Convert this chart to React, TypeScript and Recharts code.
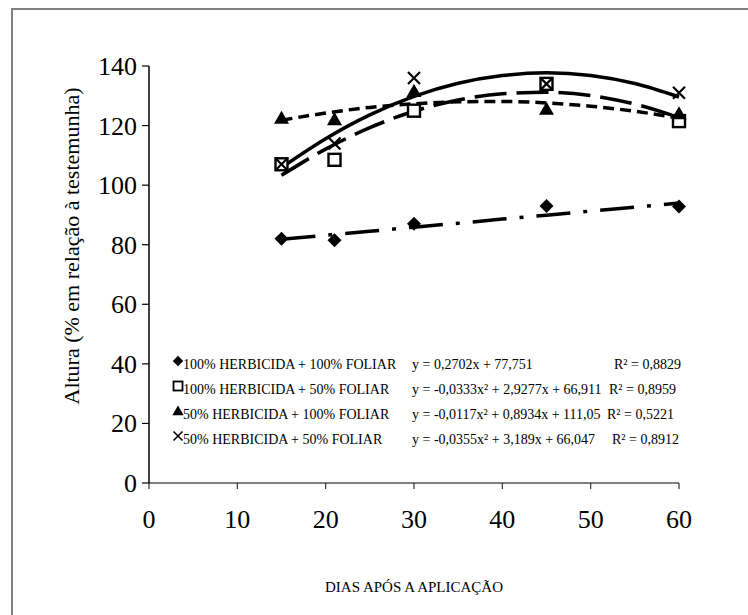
import React from 'react';
import { ComposedChart, Line, Scatter, XAxis, YAxis } from 'recharts';

// Measured points
const days = [15, 21, 30, 45, 60];
const h100f100 = [82, 81.5, 87, 93, 92.8];
const h100f50 = [107, 108.5, 125, 134, 121.5];
const h50f100 = [122.5, 122, 131.5, 125.5, 124];
const h50f50 = [107, 114, 136, 134, 131];

// Trend curves
const trendDays = [15, 20, 25, 30, 35, 40, 45, 50, 55, 60];
const trendH100F100 = [81.8, 83.2, 84.5, 85.9, 87.2, 88.6, 89.9, 91.3, 92.6, 94.0];
const trendH100F50 = [103.3, 112.1, 119.3, 124.8, 128.6, 130.7, 131.2, 130.1, 127.2, 122.7];
const trendH50F100 = [121.8, 124.2, 126.1, 127.3, 128.0, 128.1, 127.6, 126.5, 124.8, 122.5];
const trendH50F50 = [105.9, 115.6, 123.6, 129.8, 134.2, 136.8, 137.7, 136.8, 134.1, 129.6];

const xTicks = [0, 10, 20, 30, 40, 50, 60];
const yTicks = [0, 20, 40, 60, 80, 100, 120, 140];

const legendLabels = [
  '100% HERBICIDA + 100% FOLIAR',
  '100% HERBICIDA + 50% FOLIAR',
  '50% HERBICIDA + 100% FOLIAR',
  '50% HERBICIDA + 50% FOLIAR',
];
const legendEquations = [
  'y = 0,2702x + 77,751',
  'y = -0,0333x² + 2,9277x + 66,911',
  'y = -0,0117x² + 0,8934x + 111,05',
  'y = -0,0355x² + 3,189x + 66,047',
];
const legendR2 = ['R² = 0,8829', 'R² = 0,8959', 'R² = 0,5221', 'R² = 0,8912'];
const legendR2X = [614, 609, 607, 612];

const xTitle = 'DIAS APÓS A APLICAÇÃO';
const yTitle = 'Altura (% em relação à testemunha)';

const toPts = (xs: number[], ys: number[]) => xs.map((x, i) => ({ x, y: ys[i] }));

const FONT = '"Liberation Serif", "Times New Roman", serif';

type MarkerKind = 'diamond' | 'square' | 'triangle' | 'cross';

const Marker = ({ kind, cx, cy, s = 1 }: { kind: MarkerKind; cx: number; cy: number; s?: number }) => {
  if (kind === 'diamond') {
    const r = 7 * s;
    return <path d={`M${cx},${cy - r}L${cx + r},${cy}L${cx},${cy + r}L${cx - r},${cy}Z`} fill="#000" />;
  }
  if (kind === 'square') {
    const r = 6 * s;
    return <rect x={cx - r} y={cy - r} width={2 * r} height={2 * r} fill="#fff" stroke="#000" strokeWidth={2.4 * s} />;
  }
  if (kind === 'triangle') {
    const r = 7.5 * s;
    return <path d={`M${cx},${cy - r}L${cx + r},${cy + r * 0.75}L${cx - r},${cy + r * 0.75}Z`} fill="#000" />;
  }
  const r = 6 * s;
  return (
    <path d={`M${cx - r},${cy - r}L${cx + r},${cy + r}M${cx + r},${cy - r}L${cx - r},${cy + r}`} stroke="#000" strokeWidth={2.2 * s} fill="none" />
  );
};

const shapeOf = (kind: MarkerKind) => (props: any) => <Marker kind={kind} cx={props.cx} cy={props.cy} />;

const XTick = (props: any) => {
  const { x, y, payload } = props;
  return (
    <text x={x} y={y + 35} textAnchor="middle" style={{ fontFamily: FONT }} fontSize={26} fill="#000">
      {payload.value}
    </text>
  );
};

const YTick = (props: any) => {
  const { x, y, payload } = props;
  return (
    <text x={x} y={y + 9} textAnchor="end" style={{ fontFamily: FONT }} fontSize={26} fill="#000">
      {payload.value}
    </text>
  );
};

const legendKinds: MarkerKind[] = ['diamond', 'square', 'triangle', 'cross'];
const legendRowY = [364, 389, 414, 439];

export default function App() {
  return (
    <div style={{ position: 'fixed', left: 0, top: 0, width: 748, height: 615, background: '#fff', overflow: 'hidden' }}>
      <div style={{ position: 'absolute', left: 11, top: 8, width: 800, height: 700, border: '2px solid #808080' }} />
      <div style={{ position: 'absolute', left: 0, top: 0 }}>
        <ComposedChart width={748} height={615} margin={{ top: 66, right: 69, bottom: 92, left: 89 }}>
          <XAxis
            type="number"
            dataKey="x"
            domain={[0, 60]}
            ticks={xTicks}
            interval={0}
            height={40}
            axisLine={{ stroke: '#555', strokeWidth: 1.5 }}
            tickLine={{ stroke: '#333', strokeWidth: 1.2 }}
            tickSize={6}
            tick={<XTick />}
            tickMargin={4}
          />
          <YAxis
            type="number"
            dataKey="y"
            domain={[0, 140]}
            ticks={yTicks}
            interval={0}
            width={60}
            axisLine={{ stroke: '#000', strokeWidth: 1.5 }}
            tickLine={{ stroke: '#000', strokeWidth: 1.2 }}
            tickSize={7}
            tick={<YTick />}
            tickMargin={5}
          />
          <Line data={toPts(trendDays, trendH100F100)} dataKey="y" type="linear" stroke="#000" strokeWidth={3.5} strokeDasharray="34 13 4 13" dot={false} activeDot={false} isAnimationActive={false} />
          <Line data={toPts(trendDays, trendH100F50)} dataKey="y" type="monotone" stroke="#000" strokeWidth={3.5} strokeDasharray="32 10" dot={false} activeDot={false} isAnimationActive={false} />
          <Line data={toPts(trendDays, trendH50F100)} dataKey="y" type="monotone" stroke="#000" strokeWidth={3.5} strokeDasharray="11 6" dot={false} activeDot={false} isAnimationActive={false} />
          <Line data={toPts(trendDays, trendH50F50)} dataKey="y" type="monotone" stroke="#000" strokeWidth={3.5} dot={false} activeDot={false} isAnimationActive={false} />
          <Scatter data={toPts(days, h100f100)} dataKey="y" shape={shapeOf('diamond')} isAnimationActive={false} />
          <Scatter data={toPts(days, h100f50)} dataKey="y" shape={shapeOf('square')} isAnimationActive={false} />
          <Scatter data={toPts(days, h50f100)} dataKey="y" shape={shapeOf('triangle')} isAnimationActive={false} />
          <Scatter data={toPts(days, h50f50)} dataKey="y" shape={shapeOf('cross')} isAnimationActive={false} />
        </ComposedChart>
      </div>
      <svg width={748} height={615} style={{ position: 'absolute', left: 0, top: 0, pointerEvents: 'none', fontFamily: FONT }}>
        {legendLabels.map((lab, i) => (
          <g key={lab}>
            <Marker kind={legendKinds[i]} cx={178} cy={legendRowY[i] - 3} s={0.75} />
            <text x={183} y={legendRowY[i] + 5} fontSize={14} fill="#000">{lab}</text>
            <text x={412} y={legendRowY[i] + 5} fontSize={14} fill="#000">{legendEquations[i]}</text>
            <text x={legendR2X[i]} y={legendRowY[i] + 5} fontSize={14} fill="#000">{legendR2[i]}</text>
          </g>
        ))}
        <text x={414} y={592} textAnchor="middle" fontSize={15} fill="#000">{xTitle}</text>
        <text transform="translate(79,246) rotate(-90)" textAnchor="middle" fontSize={22} fill="#000">{yTitle}</text>
      </svg>
    </div>
  );
}
